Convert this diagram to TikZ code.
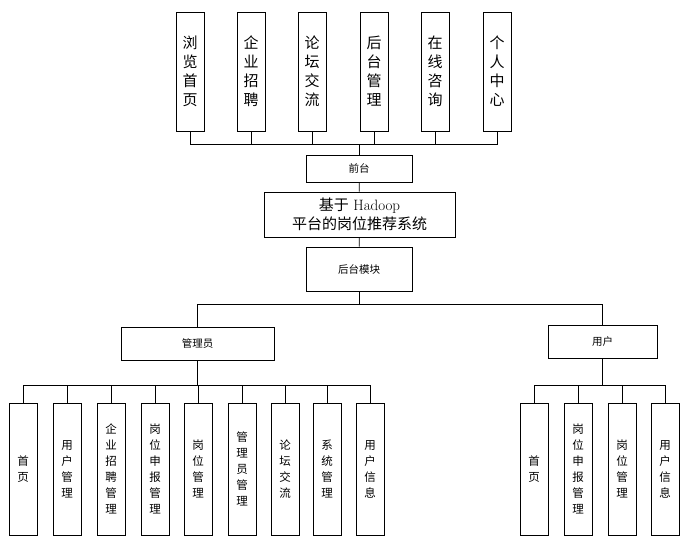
\documentclass[tikz,border=0pt]{standalone}
\usepackage{fontspec}
\newfontfamily\cjk{Noto Sans CJK SC}
\usetikzlibrary{positioning}
\tikzset{
  box/.style={draw,thick,fill=white,inner sep=0pt,align=center,font=\cjk},
  midbox/.style={box,font=\cjk\fontsize{10.5}{13}\selectfont},
  topbox/.style={box,minimum width=28pt,minimum height=119pt,font=\cjk\fontsize{15}{19}\selectfont},
  lowbox/.style={box,minimum width=28pt,minimum height=132pt,font=\cjk\fontsize{11.5}{16}\selectfont},
  wire/.style={thick}
}
\begin{document}
\begin{tikzpicture}[x=1pt,y=-1pt]
    \useasboundingbox (0,0) rectangle (691,552);
    % front end modules
    \node[topbox] (t1) at (190,71.5) {浏\\览\\首\\页};
    \node[topbox] (t2) at (251,71.5) {企\\业\\招\\聘};
    \node[topbox] (t3) at (312,71.5) {论\\坛\\交\\流};
    \node[topbox] (t4) at (374,71.5) {后\\台\\管\\理};
    \node[topbox] (t5) at (435,71.5) {在\\线\\咨\\询};
    \node[topbox] (t6) at (497,71.5) {个\\人\\中\\心};
    \node[midbox,minimum width=106pt,minimum height=27pt] (front) at (359,168.5) {前台};
    \node[box,minimum width=191pt,minimum height=45pt,font=\fontsize{15}{19}\selectfont] (sys) at (359.5,214.5) {{\cjk 基于} Hadoop\\{\cjk 平台的岗位推荐系统}};
    \node[midbox,minimum width=106pt,minimum height=44pt] (back) at (359,269) {后台模块};
    \node[midbox,minimum width=153pt,minimum height=33pt] (admin) at (197.5,343.5) {管理员};
    \node[midbox,minimum width=109pt,minimum height=33pt] (user) at (602.5,341.5) {用户};
    % admin modules
    \node[lowbox] (a1) at (23,469) {首\\页};
    \node[lowbox] (a2) at (67,469) {用\\户\\管\\理};
    \node[lowbox] (a3) at (111,469) {企\\业\\招\\聘\\管\\理};
    \node[lowbox] (a4) at (155,469) {岗\\位\\申\\报\\管\\理};
    \node[lowbox] (a5) at (198,469) {岗\\位\\管\\理};
    \node[lowbox] (a6) at (242,469) {管\\理\\员\\管\\理};
    \node[lowbox] (a7) at (285,469) {论\\坛\\交\\流};
    \node[lowbox] (a8) at (327,469) {系\\统\\管\\理};
    \node[lowbox] (a9) at (370,469) {用\\户\\信\\息};
    % user modules
    \node[lowbox] (u1) at (534,469) {首\\页};
    \node[lowbox] (u2) at (578,469) {岗\\位\\申\\报\\管\\理};
    \node[lowbox] (u3) at (622,469) {岗\\位\\管\\理};
    \node[lowbox] (u4) at (665,469) {用\\户\\信\\息};
    % connectors
    \foreach \n in {t1,t2,t3,t4,t5,t6}
        \draw[wire] (\n.south) |- ([yshift=10pt]front.north) -- (front.north);
    \draw[wire] (front) -- (sys);
    \draw[wire] (sys) -- (back);
    \draw[wire] (back.south) |- ([yshift=22pt]admin.north) -- (admin.north);
    \draw[wire] (back.south) |- ([yshift=20pt]user.north) -- (user.north);
    \foreach \n in {a1,a2,a3,a4,a5,a6,a7,a8,a9}
        \draw[wire] (admin.south) |- ([yshift=17pt]\n.north) -- (\n.north);
    \foreach \n in {u1,u2,u3,u4}
        \draw[wire] (user.south) |- ([yshift=17pt]\n.north) -- (\n.north);
\end{tikzpicture}
\end{document}
